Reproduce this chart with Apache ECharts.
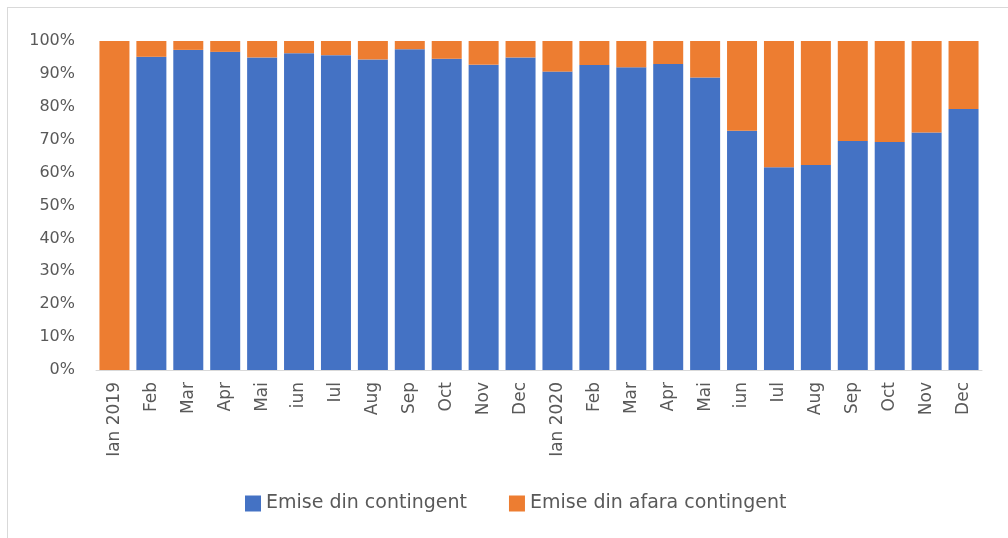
<!DOCTYPE html>
<html>
<head>
<meta charset="utf-8">
<script src="https://cdn.jsdelivr.net/npm/echarts@6/dist/echarts.min.js"></script>
<style>
  html, body { margin: 0; padding: 0; background: #fff; }
  #frame {
    position: absolute; left: 7px; top: 7px;
    width: 1010px; height: 540px;
    border: 1px solid #d9d9d9;
  }
  #myChart { position: absolute; left: 0; top: 0; width: 1008px; height: 538px; }
</style>
</head>
<body>
<div id="frame"></div>
<div id="myChart"></div>
<script>
  // luni
  var categories = ['Ian 2019', 'Feb', 'Mar', 'Apr', 'Mai', 'iun', 'Iul', 'Aug', 'Sep', 'Oct', 'Nov', 'Dec',
                    'Ian 2020', 'Feb', 'Mar', 'Apr', 'Mai', 'iun', 'Iul', 'Aug', 'Sep', 'Oct', 'Nov', 'Dec'];
  // procente
  var dinContingent = [0, 95.2, 97.3, 96.7, 95.0, 96.3, 95.7, 94.4, 97.5, 94.6, 92.8, 95.0,
                       90.7, 92.7, 92.0, 93.0, 88.9, 72.7, 61.6, 62.3, 69.6, 69.3, 72.2, 79.3];
  var dinAfara = [100, 4.8, 2.7, 3.3, 5.0, 3.7, 4.3, 5.6, 2.5, 5.4, 7.2, 5.0,
                  9.3, 7.3, 8.0, 7.0, 11.1, 27.3, 38.4, 37.7, 30.4, 30.7, 27.8, 20.7];
  var seriesNames = ['Emise din contingent', 'Emise din afara contingent'];

  var font = 'DejaVu Sans';
  var myChart = echarts.init(document.getElementById('myChart'));
  myChart.setOption({
    animation: false,
    color: ['#4472C4', '#ED7D31'],
    textStyle: { fontFamily: font },
    grid: { left: 96, right: 26, top: 41, bottom: 168, containLabel: false },
    legend: {
      top: 489,
      left: 240,
      itemWidth: 16,
      itemHeight: 16,
      itemGap: 42,
      icon: 'rect',
      textStyle: { fontSize: 19, color: '#595959', fontFamily: font },
      data: seriesNames
    },
    xAxis: {
      type: 'category',
      data: categories,
      axisLine: { lineStyle: { color: '#d9d9d9' } },
      axisTick: { show: false },
      axisLabel: { rotate: 90, interval: 0, margin: 12, fontSize: 17, color: '#595959' }
    },
    yAxis: {
      type: 'value',
      min: 0,
      max: 100,
      interval: 10,
      splitLine: { show: false },
      axisLine: { show: false },
      axisTick: { show: false },
      axisLabel: { formatter: '{value}%', fontSize: 16, color: '#595959', margin: 21 }
    },
    series: [
      { name: seriesNames[0], type: 'bar', stack: 'total', barWidth: 30, data: dinContingent },
      { name: seriesNames[1], type: 'bar', stack: 'total', barWidth: 30, data: dinAfara }
    ]
  });
</script>
</body>
</html>
